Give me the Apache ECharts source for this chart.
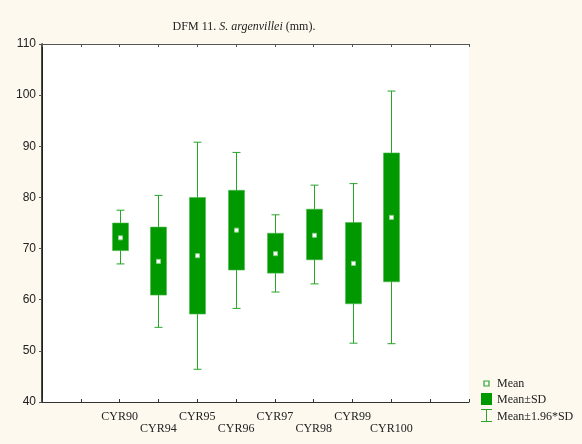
<!DOCTYPE html>
<html>
<head>
<meta charset="utf-8">
<script src="https://cdn.jsdelivr.net/npm/echarts@6/dist/echarts.min.js"></script>
<style>
  html, body { margin: 0; padding: 0; background: #fef9ee; }
  #chart { width: 582px; height: 444px; }
</style>
</head>
<body>
<div id="chart"></div>
<script>
// Sample groups (x slots 2..9 on an 0..11 axis)
const categories = ['CYR90', 'CYR94', 'CYR95', 'CYR96', 'CYR97', 'CYR98', 'CYR99', 'CYR100'];
const means  = [72.1, 67.5, 68.6, 73.6, 69.0, 72.6, 67.1, 76.1];
const sdLow  = [69.6, 60.9, 57.2, 65.8, 65.2, 67.8, 59.2, 63.5];
const sdHigh = [75.0, 74.2, 80.0, 81.4, 73.0, 77.7, 75.1, 88.7];
const ciLow  = [67.0, 54.6, 46.4, 58.3, 61.5, 63.1, 51.5, 51.4];
const ciHigh = [77.5, 80.4, 90.8, 88.8, 76.6, 82.4, 82.7, 100.8];
const yTicks = [40, 50, 60, 70, 80, 90, 100, 110];

const LEAD = 2;          // empty slots before the first group
const SLOTS = 11;        // axis runs 0..SLOTS
const GREEN = '#009900';
const WHISKER = '#27a527';
const SERIF = '"Liberation Serif", "DejaVu Serif", serif';
const SANS = '"Liberation Sans", Arial, sans-serif';

const rows = categories.map((c, i) => [i + LEAD, ciLow[i], sdLow[i], means[i], sdHigh[i], ciHigh[i]]);

function renderItem(params, api) {
  const x = api.value(0);
  const pLo = api.coord([x, api.value(1)]);
  const pBL = api.coord([x, api.value(2)]);
  const pM  = api.coord([x, api.value(3)]);
  const pBH = api.coord([x, api.value(4)]);
  const pHi = api.coord([x, api.value(5)]);
  const cx = Math.round(pM[0]) + 0.5;
  const boxW = 16, capW = 8;
  return {
    type: 'group',
    children: [
      { type: 'line', shape: { x1: cx, y1: pHi[1], x2: cx, y2: pLo[1] },
        style: { stroke: WHISKER, lineWidth: 1 } },
      { type: 'line', shape: { x1: cx - capW / 2, y1: pHi[1], x2: cx + capW / 2, y2: pHi[1] },
        style: { stroke: WHISKER, lineWidth: 1 } },
      { type: 'line', shape: { x1: cx - capW / 2, y1: pLo[1], x2: cx + capW / 2, y2: pLo[1] },
        style: { stroke: WHISKER, lineWidth: 1 } },
      { type: 'rect', shape: { x: cx - boxW / 2, y: pBH[1], width: boxW, height: pBL[1] - pBH[1] },
        style: { fill: GREEN, stroke: '#4fb84f', lineWidth: 0.6 } },
      { type: 'rect', shape: { x: cx - 2, y: pM[1] - 2, width: 4, height: 4 },
        style: { fill: '#ffffff', stroke: '#8fd08f', lineWidth: 1 } }
    ]
  };
}

const chart = echarts.init(document.getElementById('chart'), null, { renderer: 'canvas' });

const legendX = 481;
chart.setOption({
  backgroundColor: '#fef9ee',
  animation: false,
  grid: { left: 42, right: 113, top: 44, bottom: 42, show: true, backgroundColor: '#ffffff', borderWidth: 0 },
  xAxis: [
    {
      type: 'value', position: 'bottom', min: 0, max: SLOTS, interval: 1,
      splitLine: { show: false },
      axisLine: { show: true, lineStyle: { color: '#333', width: 1 } },
      axisTick: { show: true, inside: true, length: 3, lineStyle: { color: '#333' } },
      axisLabel: {
        show: true, margin: 9, fontFamily: SERIF, fontSize: 12, color: '#222', lineHeight: 12,
        formatter: function (v) {
          const i = v - LEAD;
          if (i < 0 || i >= categories.length) return '';
          return i % 2 === 0 ? categories[i] : '\n' + categories[i];
        }
      }
    },
    {
      type: 'value', position: 'top', min: 0, max: SLOTS, interval: 1,
      splitLine: { show: false },
      axisLine: { show: true, lineStyle: { color: '#555', width: 1 } },
      axisTick: { show: true, inside: true, length: 3, lineStyle: { color: '#555' } },
      axisLabel: { show: false }
    }
  ],
  yAxis: [
    {
      type: 'value', position: 'left', min: yTicks[0], max: yTicks[yTicks.length - 1], interval: 10,
      splitLine: { show: false },
      axisLine: { show: true, lineStyle: { color: '#555', width: 1 } },
      axisTick: { show: true, inside: false, length: 3, lineStyle: { color: '#555' } },
      axisLabel: { margin: 6, fontFamily: SANS, fontSize: 12, color: '#222' }
    },
    {
      type: 'value', position: 'right', min: yTicks[0], max: yTicks[yTicks.length - 1], interval: 10,
      splitLine: { show: false },
      axisLine: { show: true, lineStyle: { color: '#111', width: 1.5 } },
      axisTick: { show: false },
      axisLabel: { show: false }
    }
  ],
  series: [
    {
      name: 'groups', type: 'custom', renderItem: renderItem,
      xAxisIndex: 0, yAxisIndex: 0,
      encode: { x: 0, y: [1, 2, 3, 4, 5] },
      data: rows, z: 3
    }
  ],
  graphic: [
    {
      type: 'text', x: 244, y: 27,
      style: {
        text: '{n|DFM 11. }{i|S. argenvillei}{n| (mm).}',
        align: 'center', verticalAlign: 'middle',
        rich: {
          n: { fontFamily: SERIF, fontSize: 12, fill: '#222' },
          i: { fontFamily: SERIF, fontSize: 12, fontStyle: 'italic', fill: '#222' }
        }
      }
    },
    // legend: Mean
    { type: 'rect', shape: { x: legendX + 3, y: 381, width: 5, height: 5 },
      style: { fill: '#ffffff', stroke: '#2aa52a', lineWidth: 1.2 } },
    { type: 'text', style: { x: 497, y: 384, text: 'Mean', fontFamily: SERIF, fontSize: 12, fill: '#222', verticalAlign: 'middle' } },
    // legend: Mean±SD
    { type: 'rect', shape: { x: legendX, y: 393, width: 11, height: 12 },
      style: { fill: GREEN } },
    { type: 'text', style: { x: 497, y: 400, text: 'Mean±SD', fontFamily: SERIF, fontSize: 12, fill: '#222', verticalAlign: 'middle' } },
    // legend: Mean±1.96*SD
    { type: 'line', shape: { x1: legendX + 5.5, y1: 409, x2: legendX + 5.5, y2: 422 },
      style: { stroke: WHISKER, lineWidth: 1 } },
    { type: 'line', shape: { x1: legendX, y1: 409.5, x2: legendX + 11, y2: 409.5 },
      style: { stroke: WHISKER, lineWidth: 1 } },
    { type: 'line', shape: { x1: legendX, y1: 421.5, x2: legendX + 11, y2: 421.5 },
      style: { stroke: WHISKER, lineWidth: 1 } },
    { type: 'text', style: { x: 497, y: 417, text: 'Mean±1.96*SD', fontFamily: SERIF, fontSize: 12, fill: '#222', verticalAlign: 'middle' } }
  ]
});
</script>
</body>
</html>
